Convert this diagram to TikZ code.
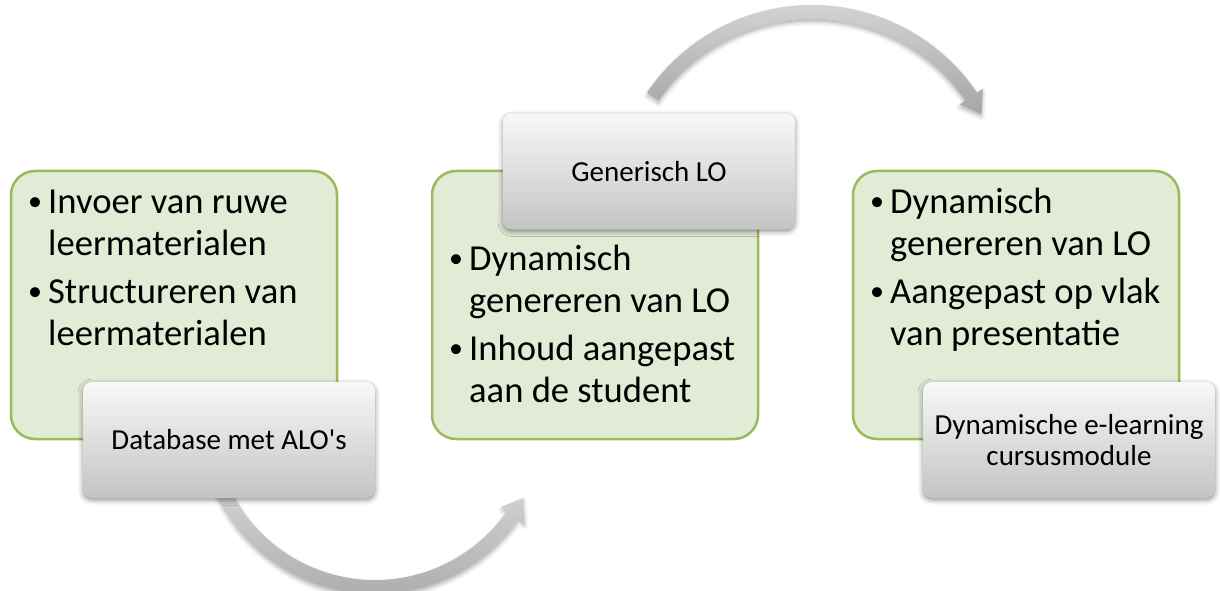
\documentclass[tikz,border=0pt]{standalone}
\usepackage{fontspec}
\setmainfont{Carlito}
\usetikzlibrary{shadows.blur,calc}

\definecolor{leafgreen}{HTML}{9BBB59}
\definecolor{leaffill}{HTML}{E2EBD6}
\definecolor{captop}{HTML}{F8F8F8}
\definecolor{capbot}{HTML}{C4C4C4}
\definecolor{arrlight}{HTML}{D4D4D4}
\definecolor{arrdark}{HTML}{A6A6A6}

% one bullet item with a hanging indent
\newcommand\bulletline[1]{\par\hangindent=20pt\hangafter=1\noindent
  \makebox[20pt][l]{\raisebox{2.5pt}{\fontsize{28}{28}\selectfont\textbullet}}#1\par}
% a list whose baseline is the baseline of its first line
\newcommand\bulletlist[1]{\vtop{\hsize=320pt\parindent=0pt\parskip=6pt\fontsize{36.6}{42}\selectfont #1}}

\tikzset{
  leaf/.style={draw=leafgreen, line width=2.5pt, fill=leaffill, rounded corners=24pt,
    minimum width=326pt, minimum height=268pt, inner sep=0pt},
  items/.style={anchor=base west, inner sep=0pt, text=black},
  labelbox/.style={rounded corners=9pt, minimum width=292pt, minimum height=116pt,
    top color=captop, bottom color=capbot, inner sep=0pt,
    blur shadow={shadow xshift=0pt, shadow yshift=-2pt, shadow blur radius=5pt, shadow opacity=45},
    font=\fontsize{29}{31}\selectfont, align=center},
  curvearrow/.style={top color=arrlight, bottom color=arrdark,
    blur shadow={shadow xshift=0pt, shadow yshift=-3pt, shadow blur radius=4pt, shadow opacity=30}}
}

\begin{document}
\begin{tikzpicture}[x=1pt, y=1pt]
\useasboundingbox (0,0) rectangle (1220,590);

% green content panels
\node[leaf] (g1) at (174,285) {};
\node[leaf] (g2) at (595,285) {};
\node[leaf] (g3) at (1016,285) {};

\node[items] (l1) at (28,377) {\bulletlist{%
  \bulletline{Invoer van ruwe\\leermaterialen}
  \bulletline{Structureren van\\leermaterialen}}};
\node[items] (l2) at (449,320) {\bulletlist{%
  \bulletline{Dynamisch\\genereren van LO}
  \bulletline{Inhoud aangepast\\aan de student}}};
\node[items] (l3) at (870,377) {\bulletlist{%
  \bulletline{Dynamisch\\genereren van LO}
  \bulletline{Aangepast op vlak\\van presentatie}}};

% curved arrows between the stages
\coordinate (c1) at (375,171);
\path[curvearrow] ($(c1)+(204:161pt)$) arc[start angle=204, end angle=325.2, radius=161pt]
  -- ($(c1)+(325.2:154pt)$) -- ($(c1)+(332:168pt)$) -- ($(c1)+(325.2:182pt)$)
  -- ($(c1)+(325.2:175pt)$) arc[start angle=325.2, end angle=204, radius=175pt] -- cycle;

\coordinate (c2) at (812,386);
\path[curvearrow] ($(c2)+(146:199pt)$) arc[start angle=146, end angle=34, radius=199pt]
  -- ($(c2)+(34:206pt)$) -- ($(c2)+(28:192pt)$) -- ($(c2)+(34:178pt)$)
  -- ($(c2)+(34:185pt)$) arc[start angle=34, end angle=146, radius=185pt] -- cycle;

% caption boxes
\node[labelbox] (t1) at (229,150) {Database met ALO\textquotesingle s};
\node[labelbox] (t2) at (649,418.5) {Generisch LO};
\node[labelbox] (t3) at (1069,150) {Dynamische e-learning\\cursusmodule};
\end{tikzpicture}
\end{document}
